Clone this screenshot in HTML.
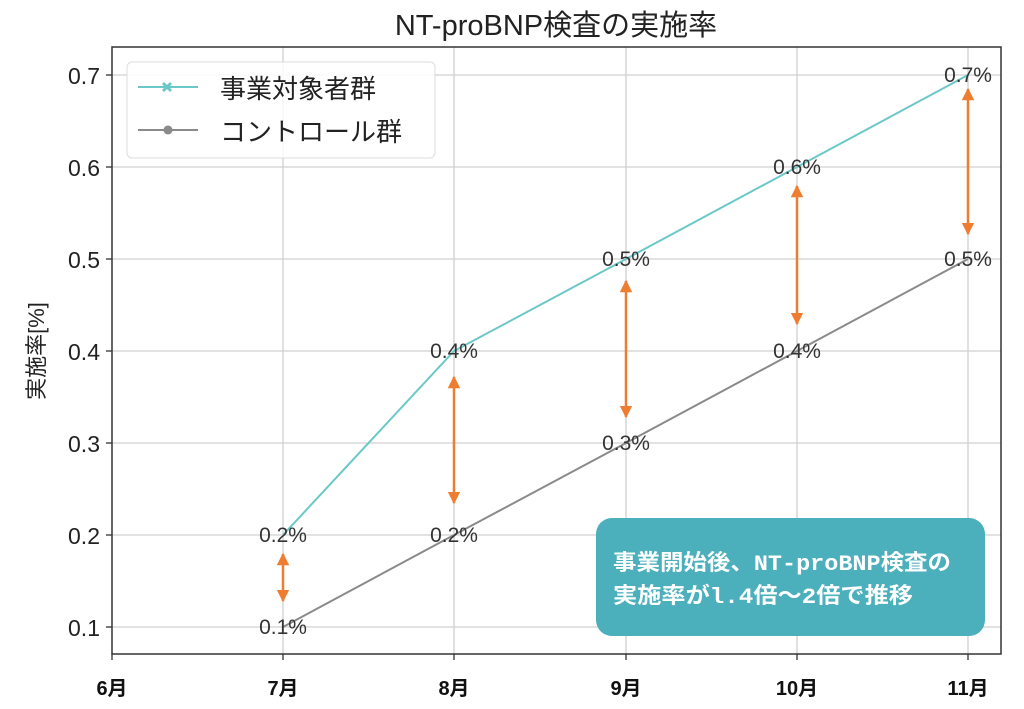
<!DOCTYPE html>
<html><head><meta charset="utf-8"><style>
body{margin:0;background:#fff;}
svg text{font-family:"Liberation Sans","Noto Sans CJK JP",sans-serif;}
</style></head><body>
<svg width="1024" height="704" xmlns="http://www.w3.org/2000/svg">
<defs>
<marker id="ah" viewBox="0 0 10 10" refX="9" refY="5" markerWidth="5" markerHeight="5" orient="auto-start-reverse"><path d="M0,0 L10,5 L0,10 z" fill="#EE7D31"/></marker>
</defs>
<text x="556" y="35" font-size="29" text-anchor="middle" fill="#222">NT-proBNP検査の実施率</text>
<g stroke="#d0d0d0" stroke-width="1.3">
<line x1="283" y1="47" x2="283" y2="654"/><line x1="454" y1="47" x2="454" y2="654"/><line x1="626" y1="47" x2="626" y2="654"/><line x1="797" y1="47" x2="797" y2="654"/><line x1="968" y1="47" x2="968" y2="654"/>
<line x1="112" y1="75" x2="1001" y2="75"/><line x1="112" y1="167" x2="1001" y2="167"/><line x1="112" y1="259" x2="1001" y2="259"/><line x1="112" y1="351" x2="1001" y2="351"/><line x1="112" y1="443" x2="1001" y2="443"/><line x1="112" y1="535" x2="1001" y2="535"/><line x1="112" y1="627" x2="1001" y2="627"/>
</g>
<rect x="112" y="47" width="889" height="607" fill="none" stroke="#333" stroke-width="1.5"/>
<g stroke="#333" stroke-width="1.3">
<line x1="112" y1="654" x2="112" y2="660"/><line x1="283" y1="654" x2="283" y2="660"/><line x1="454" y1="654" x2="454" y2="660"/><line x1="626" y1="654" x2="626" y2="660"/><line x1="797" y1="654" x2="797" y2="660"/><line x1="968" y1="654" x2="968" y2="660"/>
<line x1="106" y1="75" x2="112" y2="75"/><line x1="106" y1="167" x2="112" y2="167"/><line x1="106" y1="259" x2="112" y2="259"/><line x1="106" y1="351" x2="112" y2="351"/><line x1="106" y1="443" x2="112" y2="443"/><line x1="106" y1="535" x2="112" y2="535"/><line x1="106" y1="627" x2="112" y2="627"/>
</g>
<g font-size="23" fill="#222" text-anchor="end">
<text x="100" y="84">0.7</text><text x="100" y="176">0.6</text><text x="100" y="268">0.5</text><text x="100" y="360">0.4</text><text x="100" y="452">0.3</text><text x="100" y="544">0.2</text><text x="100" y="636">0.1</text>
</g>
<g font-size="20" font-weight="bold" fill="#111" text-anchor="middle">
<text x="112" y="695">6月</text><text x="283" y="695">7月</text><text x="454" y="695">8月</text><text x="626" y="695">9月</text><text x="797" y="695">10月</text><text x="968" y="695">11月</text>
</g>
<text transform="translate(44,351) rotate(-90)" font-size="22" fill="#222" text-anchor="middle">実施率[%]</text>
<polyline points="283,535 454,351 626,259 797,167 968,75" fill="none" stroke="#6CC8C8" stroke-width="2"/>
<polyline points="283,627 454,535 626,443 797,351 968,259" fill="none" stroke="#8a8a8a" stroke-width="2"/>
<g font-size="21" fill="#333" text-anchor="middle">
<text x="283" y="542">0.2%</text><text x="454" y="358">0.4%</text><text x="626" y="266">0.5%</text><text x="797" y="174">0.6%</text><text x="968" y="82">0.7%</text>
<text x="283" y="634">0.1%</text><text x="454" y="542">0.2%</text><text x="626" y="450">0.3%</text><text x="797" y="358">0.4%</text><text x="968" y="266">0.5%</text>
</g>
<g stroke="#EE7D31" stroke-width="2.5" marker-start="url(#ah)" marker-end="url(#ah)">
<line x1="283" y1="554" x2="283" y2="601"/>
<line x1="454" y1="377" x2="454" y2="503"/>
<line x1="626" y1="281" x2="626" y2="417"/>
<line x1="797" y1="186" x2="797" y2="324"/>
<line x1="968" y1="89" x2="968" y2="234"/>
</g>
<rect x="127" y="62" width="308" height="96" rx="5" fill="#fff" fill-opacity="0.85" stroke="#ddd"/>
<line x1="138" y1="87" x2="198" y2="87" stroke="#6CC8C8" stroke-width="2"/>
<path d="M163,83 L171,91 M171,83 L163,91" stroke="#6CC8C8" stroke-width="3"/>
<line x1="138" y1="130" x2="198" y2="130" stroke="#8a8a8a" stroke-width="2"/>
<circle cx="168" cy="130" r="4.5" fill="#8a8a8a"/>
<text x="220" y="98" font-size="26" fill="#222">事業対象者群</text>
<text x="220" y="141" font-size="26" fill="#222">コントロール群</text>
<rect x="596" y="518" width="389" height="118" rx="16" fill="#4BAFBC"/>
<g font-size="22" font-weight="bold" fill="#fff">
<text x="613" y="570" textLength="338" lengthAdjust="spacingAndGlyphs" style="font-family:'Liberation Mono','Noto Sans CJK JP',monospace">事業開始後、NT-proBNP検査の</text>
<text x="613" y="603" textLength="300" lengthAdjust="spacingAndGlyphs" style="font-family:'Liberation Mono','Noto Sans CJK JP',monospace">実施率がl.4倍～2倍で推移</text>
</g>
</svg>
</body></html>
